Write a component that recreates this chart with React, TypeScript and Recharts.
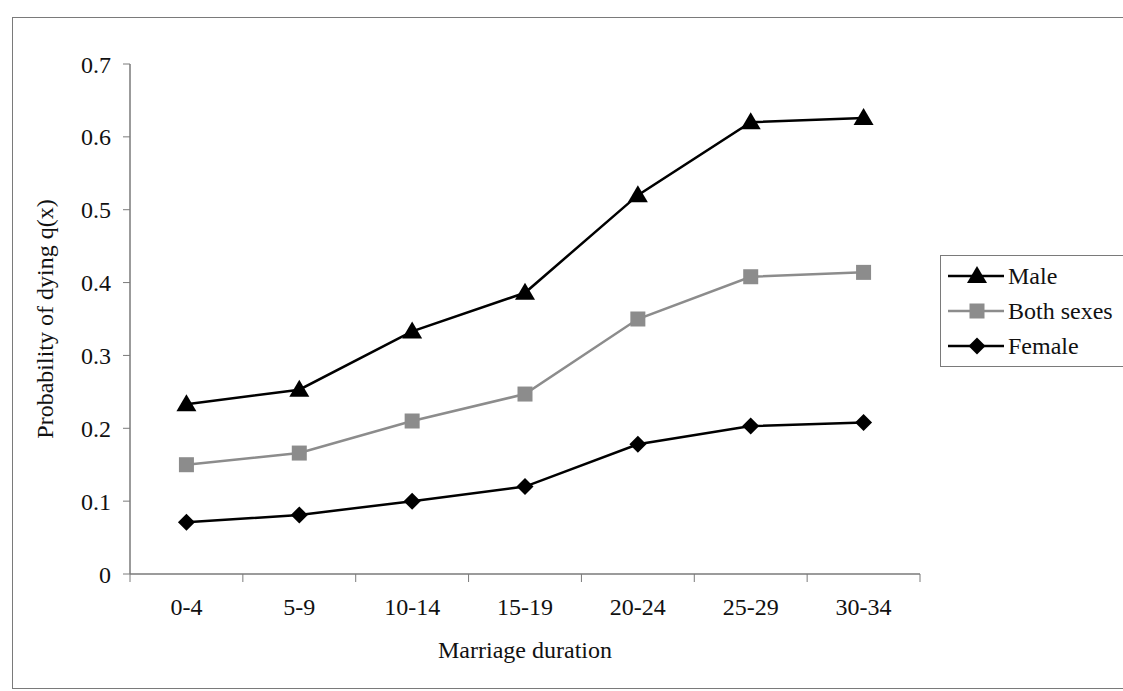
import { LineChart, Line, XAxis, YAxis, Legend } from 'recharts';

/* ------------------------------------------------------------------ */
/*  Data                                                               */
/* ------------------------------------------------------------------ */
const CATEGORIES = ['0-4', '5-9', '10-14', '15-19', '20-24', '25-29', '30-34'];
const MALE = [0.233, 0.253, 0.333, 0.386, 0.52, 0.62, 0.626];
const BOTH_SEXES = [0.15, 0.166, 0.21, 0.247, 0.35, 0.408, 0.414];
const FEMALE = [0.071, 0.081, 0.1, 0.12, 0.178, 0.203, 0.208];
const Y_TICKS = [0, 0.1, 0.2, 0.3, 0.4, 0.5, 0.6, 0.7];

const data = CATEGORIES.map((name, i) => ({
  name,
  male: MALE[i],
  both: BOTH_SEXES[i],
  female: FEMALE[i],
}));

/* ------------------------------------------------------------------ */
/*  Styling                                                            */
/* ------------------------------------------------------------------ */
const W = 1123;
const H = 691;
const MARGIN = { top: 64, right: 203, bottom: 0, left: 0 };
const Y_AXIS_W = 130;
const X_AXIS_H = 117;
const PLOT_W = W - Y_AXIS_W - MARGIN.right;
const HALF_BAND = PLOT_W / CATEGORIES.length / 2;

const FONT = '"Liberation Serif", "Times New Roman", serif';
const FONT_SIZE = 24;
const TEXT = '#111';
const AXIS = '#7a7a7a';
const GREY = '#8c8c8c';

/* ------------------------------------------------------------------ */
/*  Markers                                                            */
/* ------------------------------------------------------------------ */
function Triangle({ cx, cy }: { cx?: number; cy?: number }) {
  if (cx == null || cy == null) return null;
  return (
    <polygon
      points={`${cx},${cy - 10} ${cx - 10},${cy + 7} ${cx + 10},${cy + 7}`}
      fill="#000"
    />
  );
}

function Square({ cx, cy }: { cx?: number; cy?: number }) {
  if (cx == null || cy == null) return null;
  return <rect x={cx - 7.5} y={cy - 7.5} width={15} height={15} fill={GREY} />;
}

function Diamond({ cx, cy }: { cx?: number; cy?: number }) {
  if (cx == null || cy == null) return null;
  return (
    <polygon
      points={`${cx},${cy - 8.5} ${cx + 8.5},${cy} ${cx},${cy + 8.5} ${cx - 8.5},${cy}`}
      fill="#000"
    />
  );
}

/* x ticks: label at band centre, tick mark at band edges */
function CategoryTick(props: any) {
  const { x, y, payload, index } = props;
  const axisY = y - 24;
  return (
    <g>
      <line x1={x - HALF_BAND} x2={x - HALF_BAND} y1={axisY} y2={axisY + 8} stroke={AXIS} />
      {index === CATEGORIES.length - 1 && (
        <line x1={x + HALF_BAND} x2={x + HALF_BAND} y1={axisY} y2={axisY + 8} stroke={AXIS} />
      )}
      <text
        x={x}
        y={y}
        dy="0.71em"
        textAnchor="middle"
        fill={TEXT}
        fontSize={FONT_SIZE}
        fontFamily={FONT}
      >
        {payload.value}
      </text>
    </g>
  );
}

const LEGEND_ITEMS = [
  { label: 'Male', color: '#000', Marker: Triangle },
  { label: 'Both sexes', color: GREY, Marker: Square },
  { label: 'Female', color: '#000', Marker: Diamond },
];

function LegendBox() {
  return (
    <div
      style={{
        border: `1.5px solid ${AXIS}`,
        borderRight: 'none',
        padding: '2px 0 3px 7px',
        background: '#fff',
        fontFamily: FONT,
        fontSize: FONT_SIZE,
        color: TEXT,
      }}
    >
      {LEGEND_ITEMS.map(({ label, color, Marker }) => (
        <div key={label} style={{ display: 'flex', alignItems: 'center', height: 35 }}>
          <svg width={58} height={22}>
            <line x1={0} x2={56} y1={11} y2={11} stroke={color} strokeWidth={2.5} />
            <Marker cx={29} cy={11} />
          </svg>
          <span style={{ marginLeft: 2, lineHeight: 1 }}>{label}</span>
        </div>
      ))}
    </div>
  );
}

/* ------------------------------------------------------------------ */
/*  Main Component                                                     */
/* ------------------------------------------------------------------ */
export default function App() {
  return (
    <div
      style={{
        position: 'absolute',
        left: 0,
        top: 0,
        width: W,
        height: H,
        overflow: 'hidden',
        background: '#fff',
      }}
    >
      {/* scanned frame */}
      <div
        style={{
          position: 'absolute',
          left: 12,
          top: 17,
          width: W,
          height: 670,
          border: `1.5px solid ${AXIS}`,
        }}
      />
      <LineChart width={W} height={H} data={data} margin={MARGIN}>
        <XAxis
          dataKey="name"
          scale="band"
          height={X_AXIS_H}
          axisLine={{ stroke: AXIS, strokeWidth: 1.5 }}
          tickLine={false}
          tickSize={9}
          tickMargin={15}
          tick={<CategoryTick />}
          interval={0}
          label={{
            value: 'Marriage duration',
            position: 'insideBottom',
            offset: 33,
            fill: TEXT,
            fontSize: FONT_SIZE,
            fontFamily: FONT,
          }}
        />
        <YAxis
          width={Y_AXIS_W}
          domain={[0, 0.7]}
          ticks={Y_TICKS}
          interval={0}
          axisLine={{ stroke: AXIS, strokeWidth: 1.5 }}
          tickLine={{ stroke: AXIS }}
          tickSize={7}
          tickMargin={12}
          tick={{ fill: TEXT, fontSize: FONT_SIZE, fontFamily: FONT }}
          label={{
            value: 'Probability of dying q(x)',
            angle: -90,
            position: 'insideLeft',
            offset: 44,
            fill: TEXT,
            fontSize: FONT_SIZE,
            fontFamily: FONT,
            style: { textAnchor: 'middle' },
          }}
        />
        <Legend
          align="center"
          verticalAlign="middle"
          layout="vertical"
          wrapperStyle={{ left: 940, top: 255, width: 200 }}
          content={() => <LegendBox />}
        />
        <Line
          type="linear"
          dataKey="male"
          name="Male"
          stroke="#000"
          strokeWidth={2.5}
          dot={<Triangle />}
          isAnimationActive={false}
        />
        <Line
          type="linear"
          dataKey="both"
          name="Both sexes"
          stroke={GREY}
          strokeWidth={2.5}
          dot={<Square />}
          isAnimationActive={false}
        />
        <Line
          type="linear"
          dataKey="female"
          name="Female"
          stroke="#000"
          strokeWidth={2.5}
          dot={<Diamond />}
          isAnimationActive={false}
        />
      </LineChart>
    </div>
  );
}
